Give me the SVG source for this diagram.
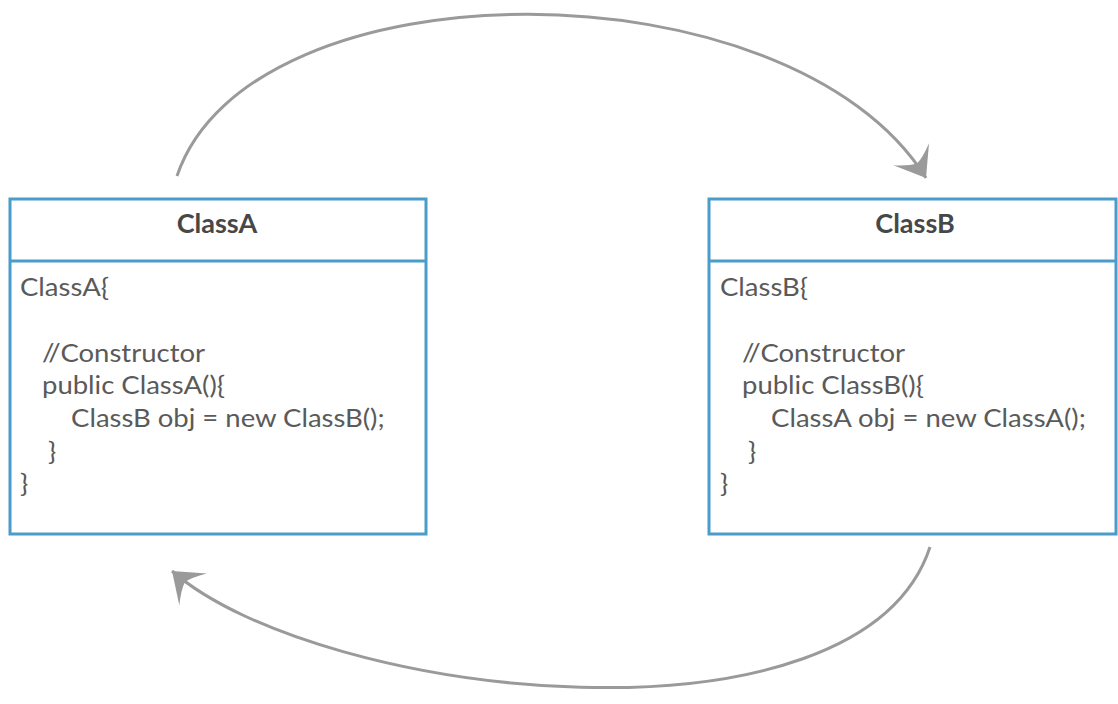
<svg xmlns="http://www.w3.org/2000/svg" width="1118" height="704" viewBox="0 0 1118 704">
<style>
.box{fill:#fff;stroke:#4a9ccb;stroke-width:3}
.hdr{font-family:Lato,"Liberation Sans",sans-serif;font-weight:bold;font-size:27px;fill:#474747;text-anchor:middle}
.code{font-family:Lato,"Liberation Sans",sans-serif;font-size:25px;fill:#5a5a5a}
.conn{fill:none;stroke:#9a9a9a;stroke-width:3}
</style>
<defs>
<marker id="arr" viewBox="0 0 32 44" refX="30" refY="22" markerWidth="32" markerHeight="44" markerUnits="userSpaceOnUse" orient="auto">
<path d="M30,22 L2,1 Q11,14 13,22 Q11,30 2,43 Z" fill="#9a9a9a"/>
</marker>
</defs>
<rect width="1118" height="704" fill="#fff"/>
<g id="connectors">
<path class="conn" d="M177,176 C250,-40 790,-40 926,178" marker-end="url(#arr)"/>
<path class="conn" d="M930,547 C860,760 320,700 172,571" marker-end="url(#arr)"/>
</g>
<g id="classA">
<rect class="box" x="10" y="199" width="416" height="335"/>
<line class="box" x1="10" y1="261" x2="426" y2="261"/>
<text class="hdr" x="217" y="233">ClassA</text>
<g transform="translate(20,0) scale(1.1,1)">
<text class="code" x="0" y="296">ClassA{</text>
<text class="code" x="20" y="362">//Constructor</text>
<text class="code" x="20" y="394">public ClassA(){</text>
<text class="code" x="46.4" y="427">ClassB obj = new ClassB();</text>
<text class="code" x="25.5" y="460">}</text>
<text class="code" x="0" y="492">}</text>
</g>
</g>
<g id="classB">
<rect class="box" x="709" y="199" width="407" height="335"/>
<line class="box" x1="709" y1="261" x2="1116" y2="261"/>
<text class="hdr" x="915" y="233">ClassB</text>
<g transform="translate(720,0) scale(1.1,1)">
<text class="code" x="0" y="296">ClassB{</text>
<text class="code" x="20" y="362">//Constructor</text>
<text class="code" x="20" y="394">public ClassB(){</text>
<text class="code" x="46.4" y="427">ClassA obj = new ClassA();</text>
<text class="code" x="25.5" y="460">}</text>
<text class="code" x="0" y="492">}</text>
</g>
</g>
</svg>
